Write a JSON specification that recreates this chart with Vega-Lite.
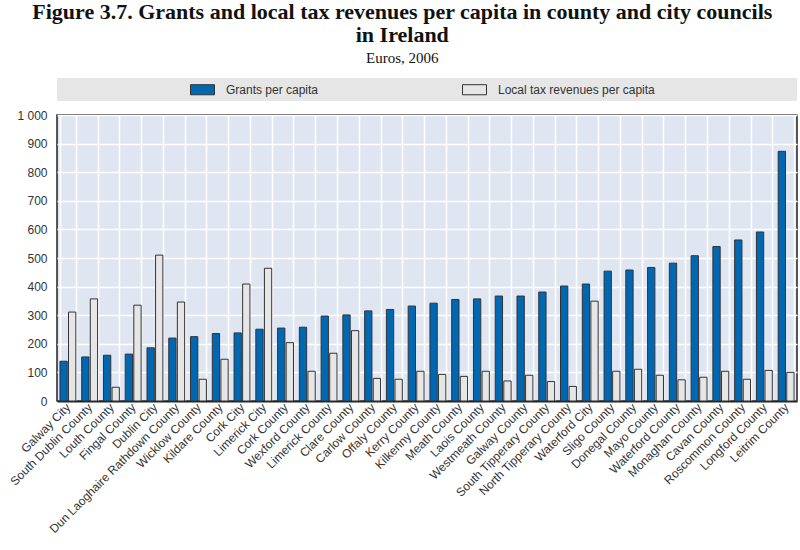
{
  "$schema": "https://vega.github.io/schema/vega-lite/v6.json",
  "autosize": "none",
  "width": 740,
  "height": 286,
  "padding": {"left": 57, "top": 115, "right": 3, "bottom": 149},
  "background": "white",
  "title": {
    "text": ["Figure 3.7.  Grants and local tax revenues per capita in county and city councils", "in Ireland"],
    "subtitle": "Euros, 2006",
    "anchor": "middle",
    "frame": "bounds",
    "font": "Liberation Serif",
    "fontSize": 22,
    "fontWeight": "bold",
    "color": "#111",
    "lineHeight": 23,
    "subtitleFont": "Liberation Serif",
    "subtitleFontSize": 15,
    "subtitleColor": "#111",
    "subtitlePadding": 4,
    "offset": 10
  },
  "config": {
    "view": {"stroke": "#222", "strokeWidth": 1.5, "fill": "#dfe6f2"},
    "font": "Liberation Sans",
    "axisY": {
      "title": null,
      "values": [0, 100, 200, 300, 400, 500, 600, 700, 800, 900, 1000],
      "format": ",d",
      "labelExpr": "replace(datum.label, ',', ' ')",
      "labelFont": "Liberation Sans",
      "labelFontSize": 12,
      "labelColor": "#333",
      "labelPadding": 10,
      "labelOverlap": false,
      "ticks": false,
      "domain": false,
      "grid": true,
      "gridColor": "white",
      "gridWidth": 1.5
    }
  },
  "data": {
    "values": [
      {"c": "Galway City", "s": "Grants per capita", "v": 139}, {"c": "Galway City", "s": "Local tax revenues per capita", "v": 311},
      {"c": "South Dublin County", "s": "Grants per capita", "v": 154}, {"c": "South Dublin County", "s": "Local tax revenues per capita", "v": 357},
      {"c": "Louth County", "s": "Grants per capita", "v": 160}, {"c": "Louth County", "s": "Local tax revenues per capita", "v": 48},
      {"c": "Fingal County", "s": "Grants per capita", "v": 164}, {"c": "Fingal County", "s": "Local tax revenues per capita", "v": 335},
      {"c": "Dublin City", "s": "Grants per capita", "v": 186}, {"c": "Dublin City", "s": "Local tax revenues per capita", "v": 510},
      {"c": "Dun Laoghaire Rathdown County", "s": "Grants per capita", "v": 220}, {"c": "Dun Laoghaire Rathdown County", "s": "Local tax revenues per capita", "v": 346},
      {"c": "Wicklow County", "s": "Grants per capita", "v": 225}, {"c": "Wicklow County", "s": "Local tax revenues per capita", "v": 76},
      {"c": "Kildare County", "s": "Grants per capita", "v": 236}, {"c": "Kildare County", "s": "Local tax revenues per capita", "v": 146},
      {"c": "Cork City", "s": "Grants per capita", "v": 238}, {"c": "Cork City", "s": "Local tax revenues per capita", "v": 409},
      {"c": "Limerick City", "s": "Grants per capita", "v": 251}, {"c": "Limerick City", "s": "Local tax revenues per capita", "v": 464},
      {"c": "Cork County", "s": "Grants per capita", "v": 255}, {"c": "Cork County", "s": "Local tax revenues per capita", "v": 204},
      {"c": "Wexford County", "s": "Grants per capita", "v": 258}, {"c": "Wexford County", "s": "Local tax revenues per capita", "v": 104},
      {"c": "Limerick County", "s": "Grants per capita", "v": 297}, {"c": "Limerick County", "s": "Local tax revenues per capita", "v": 167},
      {"c": "Clare County", "s": "Grants per capita", "v": 301}, {"c": "Clare County", "s": "Local tax revenues per capita", "v": 246},
      {"c": "Carlow County", "s": "Grants per capita", "v": 315}, {"c": "Carlow County", "s": "Local tax revenues per capita", "v": 79},
      {"c": "Offaly County", "s": "Grants per capita", "v": 320}, {"c": "Offaly County", "s": "Local tax revenues per capita", "v": 76},
      {"c": "Kerry County", "s": "Grants per capita", "v": 332}, {"c": "Kerry County", "s": "Local tax revenues per capita", "v": 104},
      {"c": "Kilkenny County", "s": "Grants per capita", "v": 342}, {"c": "Kilkenny County", "s": "Local tax revenues per capita", "v": 93},
      {"c": "Meath County", "s": "Grants per capita", "v": 355}, {"c": "Meath County", "s": "Local tax revenues per capita", "v": 86},
      {"c": "Laois County", "s": "Grants per capita", "v": 357}, {"c": "Laois County", "s": "Local tax revenues per capita", "v": 104},
      {"c": "Westmeath County", "s": "Grants per capita", "v": 367}, {"c": "Westmeath County", "s": "Local tax revenues per capita", "v": 70},
      {"c": "Galway County", "s": "Grants per capita", "v": 367}, {"c": "Galway County", "s": "Local tax revenues per capita", "v": 90},
      {"c": "South Tipperary County", "s": "Grants per capita", "v": 381}, {"c": "South Tipperary County", "s": "Local tax revenues per capita", "v": 68},
      {"c": "North Tipperary County", "s": "Grants per capita", "v": 402}, {"c": "North Tipperary County", "s": "Local tax revenues per capita", "v": 51},
      {"c": "Waterford City", "s": "Grants per capita", "v": 409}, {"c": "Waterford City", "s": "Local tax revenues per capita", "v": 349},
      {"c": "Sligo County", "s": "Grants per capita", "v": 454}, {"c": "Sligo County", "s": "Local tax revenues per capita", "v": 104},
      {"c": "Donegal County", "s": "Grants per capita", "v": 458}, {"c": "Donegal County", "s": "Local tax revenues per capita", "v": 111},
      {"c": "Mayo County", "s": "Grants per capita", "v": 467}, {"c": "Mayo County", "s": "Local tax revenues per capita", "v": 90},
      {"c": "Waterford County", "s": "Grants per capita", "v": 482}, {"c": "Waterford County", "s": "Local tax revenues per capita", "v": 74},
      {"c": "Monaghan County", "s": "Grants per capita", "v": 508}, {"c": "Monaghan County", "s": "Local tax revenues per capita", "v": 83},
      {"c": "Cavan County", "s": "Grants per capita", "v": 540}, {"c": "Cavan County", "s": "Local tax revenues per capita", "v": 104},
      {"c": "Roscommon County", "s": "Grants per capita", "v": 563}, {"c": "Roscommon County", "s": "Local tax revenues per capita", "v": 76},
      {"c": "Longford County", "s": "Grants per capita", "v": 591}, {"c": "Longford County", "s": "Local tax revenues per capita", "v": 107},
      {"c": "Leitrim County", "s": "Grants per capita", "v": 873}, {"c": "Leitrim County", "s": "Local tax revenues per capita", "v": 100}
    ]
  },
  "layer": [
    {
      "mark": {"type": "rect", "fill": "#e6e6e6"},
      "encoding": {
        "y": {"datum": 1129, "type": "quantitative", "scale": {"domain": [0, 1000], "nice": false, "zero": true}},
        "y2": {"datum": 1052}
      }
    },
    {
      "mark": {"type": "bar", "stroke": "#333", "strokeWidth": 1},
      "encoding": {
        "x": {
          "field": "c",
          "type": "nominal",
          "sort": null,
          "scale": {"paddingInner": 0.27, "paddingOuter": 0.135},
          "axis": {
            "title": null,
            "labelAngle": -45,
            "labelAlign": "right",
            "labelBaseline": "middle",
            "labelFont": "Liberation Sans",
            "labelFontSize": 12,
            "labelColor": "#333",
            "labelPadding": 4,
            "labelLimit": 300,
            "labelOverlap": false,
            "domainColor": "#222",
            "domainWidth": 2,
            "ticks": false,
            "tickBand": "extent",
            "grid": true,
            "gridColor": "white",
            "gridWidth": 1.5
          }
        },
        "xOffset": {
          "field": "s",
          "type": "nominal",
          "sort": ["Grants per capita", "Local tax revenues per capita"],
          "scale": {"paddingInner": 0.15}
        },
        "y": {
          "field": "v",
          "type": "quantitative",
          "title": null,
          "scale": {"domain": [0, 1000], "nice": false}
        },
        "color": {
          "field": "s",
          "type": "nominal",
          "scale": {"domain": ["Grants per capita", "Local tax revenues per capita"], "range": ["#0068b3", "#e6e6e6"]},
          "legend": {
            "title": null,
            "orient": "none",
            "legendX": 133,
            "legendY": -38,
            "direction": "horizontal",
            "symbolType": "M-1,-0.42H1V0.42H-1Z",
            "symbolSize": 576,
            "symbolStrokeColor": "#333",
            "symbolStrokeWidth": 1,
            "symbolOpacity": 1,
            "labelFont": "Liberation Sans",
            "labelFontSize": 12,
            "labelColor": "#333",
            "labelOffset": 11,
            "columnPadding": 141,
            "padding": 0
          }
        }
      }
    }
  ]
}
